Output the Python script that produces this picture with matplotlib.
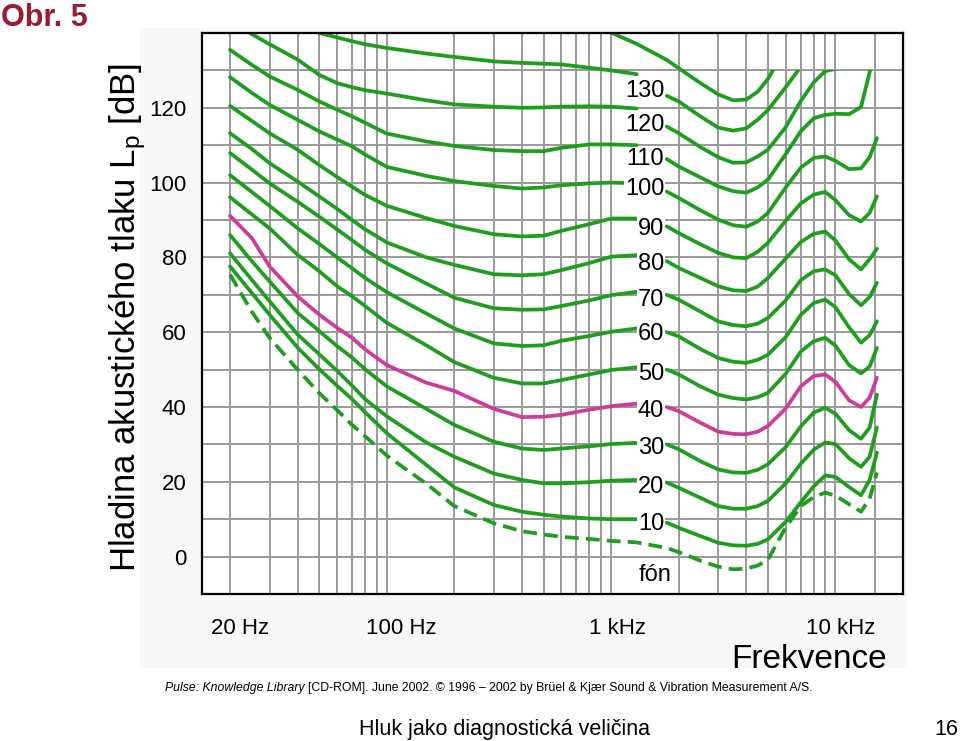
import numpy as np
import matplotlib
matplotlib.use("Agg")
import matplotlib.pyplot as plt
from matplotlib import font_manager
from matplotlib.patches import Rectangle, Polygon
from matplotlib.transforms import blended_transform_factory, ScaledTranslation

plt.rcParams['font.family'] = ['Liberation Sans', 'DejaVu Sans']
nan = float('nan')

# frequency grids (Hz): left part of each contour (up to the label) and right part
F_LEFT = [20, 25, 30, 40, 50, 60, 70, 80, 100, 150, 200, 300, 400, 500, 600, 800, 1000, 1300]
F_RIGHT = [1770, 2000, 2500, 3000, 3500, 4000, 4500, 5000, 6000, 7000, 8000, 9000, 10000, 11500, 13000, 14200, 15300]

# sound pressure level [dB]
left_140 = [nan] * 15 + [143.0, 140.1, 137.1]
right_140 = [132.8, 130.6, 126.6, 123.6, 122.0, 122.2, 124.3, 127.7, 136.0] + [nan] * 8

left_130 = [nan, nan, nan, 143.5, 140.0, 138.8, 137.8, 137.0, 136.0, 134.5, 133.6, 132.4, 132.0, 131.8, 131.6, 130.7, 130.0, 129.0]
right_130 = [123.2, 121.7, 117.7, 114.7, 113.9, 114.5, 116.8, 119.4, 125.5, 131.0, nan, nan, nan, nan, nan, nan, nan]

left_120 = [143.5, 139.7, 137.0, 132.9, 128.8, 126.6, 125.5, 124.7, 123.8, 122.0, 120.9, 120.3, 120.0, 120.1, 120.3, 120.4, 120.3, 119.8]
right_120 = [115.0, 113.2, 109.5, 106.8, 105.3, 105.4, 107.0, 108.8, 114.8, 121.8, 126.8, 129.8, 130.4, nan, nan, nan, nan]

left_110 = [135.5, 131.5, 128.4, 124.8, 121.7, 119.5, 117.7, 116.0, 113.1, 111.0, 109.8, 108.7, 108.4, 108.4, 109.3, 110.2, 110.2, 110.0]
right_110 = [106.3, 104.3, 101.4, 99.0, 97.7, 97.3, 98.7, 100.8, 107.6, 113.7, 117.2, 118.1, 118.4, 118.3, 120.2, 129.5, 138.0]

left_100 = [128.2, 124.0, 120.8, 116.8, 113.7, 111.5, 109.7, 107.5, 104.2, 101.8, 100.4, 99.1, 98.4, 98.7, 99.3, 99.8, 100.0, 99.8]
right_100 = [97.6, 95.9, 92.6, 90.1, 88.6, 88.2, 89.6, 91.9, 98.7, 104.0, 106.6, 107.0, 105.8, 103.6, 103.8, 106.8, 111.9]

left_90 = [120.5, 116.5, 113.2, 108.8, 104.7, 101.5, 98.9, 96.7, 93.8, 90.5, 88.4, 86.2, 85.6, 85.8, 87.1, 88.9, 90.4, 90.4]
right_90 = [88.3, 86.5, 83.5, 81.2, 80.0, 79.8, 81.5, 83.9, 89.8, 94.4, 96.8, 97.5, 95.3, 91.3, 89.6, 91.9, 96.3]

left_80 = [113.2, 109.0, 105.2, 100.3, 96.3, 93.0, 90.0, 87.5, 84.0, 80.0, 78.0, 75.5, 75.2, 75.5, 76.6, 78.5, 80.2, 80.6]
right_80 = [79.0, 77.2, 74.5, 72.3, 71.2, 71.0, 72.2, 74.5, 79.7, 84.1, 86.3, 86.9, 84.5, 79.5, 76.8, 79.5, 82.3]

left_70 = [107.9, 103.5, 99.8, 94.9, 90.9, 87.5, 84.6, 82.0, 78.4, 73.0, 69.2, 66.4, 66.0, 66.1, 67.0, 68.5, 69.9, 70.8]
right_70 = [70.0, 68.7, 65.5, 62.9, 61.9, 61.6, 62.3, 63.8, 68.5, 73.9, 76.3, 76.8, 75.2, 70.2, 67.2, 69.4, 73.2]

left_60 = [102.0, 97.5, 93.8, 87.8, 83.6, 80.0, 77.1, 74.5, 70.7, 65.0, 61.0, 57.0, 56.3, 56.5, 57.7, 59.0, 60.1, 61.0]
right_60 = [60.0, 58.9, 55.5, 53.1, 52.1, 51.8, 52.6, 54.0, 58.7, 64.6, 67.8, 68.7, 66.7, 61.3, 57.2, 59.2, 62.9]

left_50 = [96.1, 91.5, 87.8, 80.7, 76.3, 72.3, 69.6, 67.0, 62.5, 56.5, 52.0, 47.8, 46.3, 46.3, 47.2, 48.7, 49.9, 50.6]
right_50 = [50.0, 48.7, 45.5, 43.3, 42.4, 42.0, 42.6, 43.8, 48.9, 54.8, 57.6, 58.5, 56.4, 51.2, 49.0, 50.8, 55.8]

left_40 = [91.1, 85.2, 77.6, 69.6, 64.7, 61.2, 58.5, 55.4, 51.2, 46.5, 44.3, 39.5, 37.3, 37.4, 37.9, 39.3, 40.2, 40.9]
right_40 = [40.0, 38.9, 35.8, 33.4, 32.8, 32.7, 33.4, 34.9, 39.6, 45.5, 48.3, 48.7, 46.7, 41.8, 40.0, 42.5, 47.8]

left_30 = [86.0, 79.0, 73.6, 65.2, 60.3, 56.3, 53.2, 50.1, 45.5, 39.5, 35.2, 30.7, 28.9, 28.5, 28.9, 29.5, 30.1, 30.4]
right_30 = [30.0, 28.7, 25.5, 23.3, 22.5, 22.4, 23.2, 24.7, 29.3, 34.8, 38.5, 39.8, 38.2, 33.8, 31.5, 34.5, 43.3]

left_20 = [81.1, 74.0, 68.3, 59.4, 54.1, 49.7, 45.7, 42.1, 37.5, 30.5, 26.7, 22.2, 20.5, 19.6, 19.6, 19.9, 20.3, 20.5]
right_20 = [19.8, 18.4, 15.7, 13.5, 12.8, 12.8, 13.5, 14.9, 19.6, 24.8, 28.6, 30.5, 30.1, 26.3, 24.0, 26.7, 34.5]

left_10 = [77.6, 70.5, 64.7, 55.9, 50.1, 45.7, 42.1, 38.6, 33.0, 24.5, 18.5, 13.8, 12.0, 11.2, 10.7, 10.2, 10.0, 10.0]
right_10 = [9.1, 7.7, 5.5, 3.7, 3.0, 2.9, 3.4, 4.6, 9.3, 14.5, 18.8, 21.7, 21.3, 18.6, 16.4, 20.5, 27.8]

# hearing threshold (dashed)
left_thr = [75.4, 65.5, 58.5, 50.0, 43.7, 39.2, 35.2, 32.2, 27.0, 19.5, 13.5, 8.9, 6.8, 5.9, 5.3, 4.7, 4.2, 3.8]
right_thr = [2.3, 1.2, -1.1, -2.7, -3.4, -3.2, -2.4, -0.8, 7.8, 13.5, 15.9, 17.1, 16.3, 14.0, 12.0, 15.5, 22.5]

PHONS = [130, 120, 110, 100, 90, 80, 70, 60, 50, 40, 30, 20, 10]
LEFTS = [left_130, left_120, left_110, left_100, left_90, left_80, left_70,
         left_60, left_50, left_40, left_30, left_20, left_10]
RIGHTS = [right_130, right_120, right_110, right_100, right_90, right_80, right_70,
          right_60, right_50, right_40, right_30, right_20, right_10]
# vertical position of the phon labels (dB)
LABEL_Y = [125.1, 116.1, 107.0, 98.9, 88.2, 79.0, 69.3, 60.3, 49.5, 39.6, 29.7, 19.3, 9.3]

XTICK_F = [20, 100, 1000, 10000]
XTICK_TXT = ['20 Hz', '100 Hz', '1 kHz', '10 kHz']
YTICKS = [0, 20, 40, 60, 80, 100, 120]
GRID_F = [20, 30, 40, 50, 60, 70, 80, 90, 100, 200, 300, 400, 500, 600, 700, 800, 900,
          1000, 2000, 3000, 4000, 5000, 6000, 7000, 8000, 9000, 10000, 15000]
GRID_DB = list(range(0, 140, 10))

GREEN = '#1f9d1f'
MAGENTA = '#cc3c99'
W, H = 960, 741

fig = plt.figure(figsize=(W / 100, H / 100), dpi=100)
fig.patch.set_facecolor('white')
fig.patches.append(Rectangle((140 / W, 1 - 668 / H), 767 / W, 640 / H,
                             transform=fig.transFigure, facecolor='#f7f7f7',
                             edgecolor='none', zorder=-5))

ax = fig.add_axes([202 / W, 1 - 594 / H, 701 / W, 561 / H])
ax.set_xscale('log')
ax.set_xlim(15, 20000)
ax.set_ylim(-10, 140)
ax.set_facecolor('white')

for f in GRID_F:
    ax.axvline(f, color='#999999', lw=1.4, zorder=1)
for d in GRID_DB:
    ax.axhline(d, color='#999999', lw=1.4, zorder=1)

# right parts are cut at 130 dB
clip = Polygon([(15, -10), (20000, -10), (20000, 130), (4500, 130), (4500, 140), (15, 140)],
               closed=True, transform=ax.transData)

style = dict(lw=2.7, zorder=3, solid_capstyle='round', solid_joinstyle='round')
for ph, lv, rv in zip(PHONS, LEFTS, RIGHTS):
    col = MAGENTA if ph == 40 else GREEN
    for fx, vals in ((F_LEFT, lv), (F_RIGHT, rv)):
        ln, = ax.plot(fx, vals, color=col, **style)
        ln.set_clip_path(clip)

ln, = ax.plot(F_LEFT + F_RIGHT, left_140 + right_140, color=GREEN, **style)
ln.set_clip_path(clip)
ax.plot(F_LEFT + F_RIGHT, left_thr + right_thr, color=GREEN, lw=2.7, zorder=3,
        dashes=(3.7, 1.9), dash_joinstyle='round')

for ph, ly in zip(PHONS, LABEL_Y):
    ax.text(1723, ly, str(ph), ha='right', va='center_baseline', fontsize=17, zorder=5,
            bbox=dict(boxstyle='square,pad=0.05', facecolor='white', edgecolor='none'))
ax.text(1571, -4.2, 'fón', ha='center', va='center_baseline', fontsize=17, zorder=5)

ax.set_xticks([])
ax.set_xticks([], minor=True)
ax.set_yticks(YTICKS)
ax.set_yticklabels([str(v) for v in YTICKS], fontsize=16)
ax.tick_params(axis='y', length=0, pad=11)
for s in ax.spines.values():
    s.set_linewidth(1.6)
    s.set_color('black')
    s.set_zorder(4)

trans = blended_transform_factory(ax.transData, ax.transAxes)
XLAB_DX = [10, 14, 6, 5]
for f, t, dx in zip(XTICK_F, XTICK_TXT, XLAB_DX):
    tr = trans + ScaledTranslation(dx / 100, 0, fig.dpi_scale_trans)
    ax.text(f, -31.5 / 561, t, transform=tr, ha='center', va='center_baseline',
            fontsize=16, clip_on=False)

fig.text(809 / W, 1 - 656 / H, 'Frekvence', ha='center', va='center_baseline', fontsize=24)
fig.text(128 / W, 1 - 318 / H, r'Hladina akustického tlaku $\mathregular{L_p}$ [dB]',
         rotation=90, ha='center', va='center', fontsize=25)
fig.text(1 / W, 1 - 3 / H, 'Obr. 5', ha='left', va='top', fontsize=22,
         fontweight='bold', color='#9b1b30')

names = {f.name for f in font_manager.fontManager.ttflist}
narrow = 'Liberation Sans Narrow' if 'Liberation Sans Narrow' in names else None
cite_fam = [narrow, 'DejaVu Sans'] if narrow else ['Liberation Sans', 'DejaVu Sans']
cite_size = 10.5 if narrow else 8.85
foot_size = 19 if narrow else 15.5

renderer = fig.canvas.get_renderer()
t1 = fig.text(165 / W, 1 - 686 / H, 'Pulse: Knowledge Library', style='italic',
              family=cite_fam, fontsize=cite_size, ha='left', va='center_baseline')
bb = t1.get_window_extent(renderer=renderer)
fig.text(bb.x1 / W + 3 / W, 1 - 686 / H,
         '[CD-ROM]. June 2002. © 1996 – 2002 by Brüel & Kjær Sound & Vibration Measurement A/S.',
         family=cite_fam, fontsize=cite_size, ha='left', va='center_baseline')

fig.text(505 / W, 1 - 727 / H, 'Hluk jako diagnostická veličina', family=cite_fam,
         fontsize=foot_size, ha='center', va='center_baseline')
fig.text(946 / W, 1 - 727 / H, '16', family=cite_fam, fontsize=foot_size,
         ha='center', va='center_baseline')

fig.savefig('out.png', dpi=100)
